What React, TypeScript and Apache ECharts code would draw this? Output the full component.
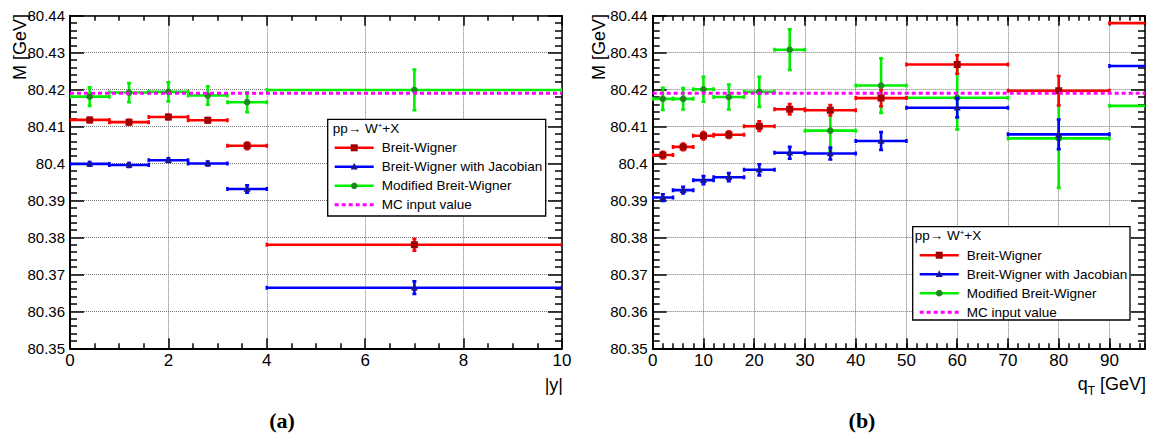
import React, { useEffect, useRef } from 'react';
import * as echarts from 'echarts';

const FONT = 'Liberation Sans, Arial, Helvetica, sans-serif';
const SERIF = 'Liberation Serif, Times New Roman, serif';

// ---------- Panel (a): fitted W mass vs |y| ----------
const yEdges = [0, 0.8, 1.6, 2.4, 3.2, 4, 10];
const yCenters = [0.4, 1.2, 2.0, 2.8, 3.6, 7];
const bwA = [80.4118, 80.4112, 80.4126, 80.4117, 80.4048, 80.378];
const bwAErr = [0.0006, 0.0006, 0.0006, 0.0006, 0.0009, 0.0016];
const bwjA = [80.3999, 80.3996, 80.4009, 80.4, 80.3931, 80.3664];
const bwjAErr = [0.0005, 0.0005, 0.0005, 0.0005, 0.001, 0.0017];
const mbwA = [80.4181, 80.4192, 80.4194, 80.4184, 80.4166, 80.4199];
const mbwAErr = [0.0025, 0.0026, 0.0026, 0.0025, 0.0027, 0.0055];

// ---------- Panel (b): fitted W mass vs qT ----------
const qEdges = [0, 4, 8, 12, 18, 24, 30, 40, 50, 70, 90, 110];
const qCenters = [2, 6, 10, 15, 21, 27, 35, 45, 60, 80, 100];
const bwB = [80.4023, 80.4045, 80.4075, 80.4078, 80.4101, 80.4147, 80.4144, 80.4177, 80.4268, 80.4197, 80.438];
const bwBErr = [0.0009, 0.0009, 0.001, 0.0009, 0.0013, 0.0014, 0.0014, 0.0022, 0.0025, 0.004, 0.005];
const bwjB = [80.3908, 80.3928, 80.3955, 80.3963, 80.3983, 80.4029, 80.4027, 80.4061, 80.4151, 80.4079, 80.4264];
const bwjBErr = [0.0009, 0.0009, 0.0011, 0.0011, 0.0015, 0.0016, 0.0016, 0.0024, 0.0026, 0.004, 0.005];
const mbwB = [80.4175, 80.4175, 80.4201, 80.418, 80.4194, 80.4308, 80.4089, 80.4211, 80.4178, 80.4068, 80.4156];
const mbwBErr = [0.003, 0.0029, 0.0034, 0.0034, 0.0041, 0.0055, 0.0054, 0.0074, 0.0086, 0.0134, 0.01];

const mcValue = 80.419;
const yRange = [0, 10];
const qRange = [0, 97];
const mRange = [80.35, 80.44];

const legendTitle = 'pp→ W{sup|+}+X';
const legendNames = ['Breit-Wigner', 'Breit-Wigner with Jacobian', 'Modified Breit-Wigner', 'MC input value'];

const RED = '#ff0000', RED_M = '#a00000';
const BLUE = '#0000ff', BLUE_M = '#18188c';
const GREEN = '#00ee00', GREEN_M = '#1e8a1e';
const MAG = '#ff00ff';

function rows(edges: number[], centers: number[], vals: number[], errs: number[]) {
  return vals.map((v, i) => [edges[i], edges[i + 1], centers[i], v, errs[i]]);
}

function markerShape(kind: string, cx: number, cy: number, fill: string) {
  if (kind === 'square') return { type: 'rect', shape: { x: cx - 3.5, y: cy - 3.5, width: 7, height: 7 }, style: { fill } };
  if (kind === 'triangle') return { type: 'polygon', shape: { points: [[cx, cy - 4], [cx - 3.5, cy + 2.8], [cx + 3.5, cy + 2.8]] }, style: { fill } };
  return { type: 'circle', shape: { cx, cy, r: 3.3 }, style: { fill } };
}

function stepSeries(data: number[][], xi: number, yi: number, color: string, mcolor: string, kind: string) {
  return {
    type: 'custom',
    xAxisIndex: xi,
    yAxisIndex: yi,
    clip: true,
    encode: { x: [0, 1], y: 3 },
    data,
    renderItem: (params: any, api: any) => {
      const cs = params.coordSys;
      const xa = cs.x, xb = cs.x + cs.width;
      const v = api.value(3), e = api.value(4);
      const lo = api.coord([api.value(0), v]);
      const hi = api.coord([api.value(1), v]);
      const c = api.coord([api.value(2), v]);
      const t = api.coord([api.value(2), v + e]);
      const b = api.coord([api.value(2), v - e]);
      const y = c[1];
      const L = Math.max(lo[0], xa), R = Math.min(hi[0], xb);
      const st = { stroke: color, lineWidth: 2.6 };
      const ch: any[] = [{ type: 'line', shape: { x1: L, y1: y, x2: R, y2: y }, style: st }];
      if (lo[0] >= xa - 0.5) ch.push({ type: 'line', shape: { x1: L, y1: y - 2, x2: L, y2: y + 2 }, style: st });
      if (hi[0] <= xb + 0.5) ch.push({ type: 'line', shape: { x1: R, y1: y - 2, x2: R, y2: y + 2 }, style: st });
      if (c[0] <= xb) {
        ch.push({ type: 'line', shape: { x1: c[0], y1: t[1], x2: c[0], y2: b[1] }, style: st });
        ch.push({ type: 'line', shape: { x1: c[0] - 2, y1: t[1], x2: c[0] + 2, y2: t[1] }, style: st });
        ch.push({ type: 'line', shape: { x1: c[0] - 2, y1: b[1], x2: c[0] + 2, y2: b[1] }, style: st });
        ch.push(markerShape(kind, c[0], y, mcolor));
      }
      return { type: 'group', children: ch };
    },
  };
}

function mcSeries(range: number[], xi: number, yi: number) {
  return {
    type: 'line',
    xAxisIndex: xi,
    yAxisIndex: yi,
    symbol: 'none',
    data: [[range[0], mcValue], [range[1], mcValue]],
    lineStyle: { color: MAG, width: 3, type: [4, 3] },
    z: 5,
  };
}

const black = '#000';
function xAxisDef(grid: number, range: number[], interval: number, pos: string, opts: any) {
  return {
    type: 'value', gridIndex: grid, min: range[0], max: range[1], interval, position: pos,
    axisLine: { show: opts.line, onZero: false, lineStyle: { color: black, width: pos === 'bottom' ? 2 : 1.5 } },
    axisTick: { show: true, inside: true, length: opts.tick, lineStyle: { color: black, width: 1.5 } },
    minorTick: { show: !!opts.minor, splitNumber: opts.minor || 5, length: 5, lineStyle: { color: black, width: 1.5 } },
    axisLabel: {
      show: !!opts.labels, color: black, fontFamily: FONT, fontSize: 17, margin: 4,
      showMaxLabel: opts.showMax !== false,
    },
    splitLine: { show: !!opts.split, lineStyle: { color: '#777', type: 'dotted', width: 1 } },
  };
}
function yAxisDef(grid: number, pos: string, labels: boolean) {
  return {
    type: 'value', gridIndex: grid, min: mRange[0], max: mRange[1], interval: 0.01, position: pos,
    axisLine: { show: true, onZero: false, lineStyle: { color: black, width: pos === 'left' ? 2 : 1.5 } },
    axisTick: { show: true, inside: true, length: 14, lineStyle: { color: black, width: 1.5 } },
    minorTick: { show: true, splitNumber: 5, length: 7, lineStyle: { color: black, width: 1.5 } },
    axisLabel: {
      show: labels, color: black, fontFamily: FONT, fontSize: 15, margin: 5,
      formatter: (v: number) => Number(v).toFixed(2).replace(/0$/, ''),
    },
    splitLine: { show: labels, lineStyle: { color: '#777', type: 'dotted', width: 1 } },
  };
}

function legendGraphic(x: number, y: number, w: number, h: number, hx: number) {
  const els: any[] = [];
  els.push({ type: 'rect', shape: { x, y, width: w, height: h }, style: { fill: '#fff', stroke: black, lineWidth: 1.3 }, z: 100 });
  els.push({
    type: 'text', x: x + hx, y: y + 9, z: 101,
    style: {
      text: legendTitle, fill: black, fontFamily: FONT, fontSize: 13.5, verticalAlign: 'middle', align: 'left',
      rich: { sup: { fontSize: 8, fontFamily: FONT, fill: black, verticalAlign: 'top', padding: [0, 0, 6, 0] } },
    },
  });
  const cols = [[RED, RED_M, 'square'], [BLUE, BLUE_M, 'triangle'], [GREEN, GREEN_M, 'circle'], [MAG, '', '']];
  legendNames.forEach((name, i) => {
    const ry = y + 28.5 + i * 19;
    const [lc, mc, kind] = cols[i];
    els.push({
      type: 'line', z: 101,
      shape: { x1: x + 7, y1: ry, x2: x + 46, y2: ry },
      style: i === 3 ? { stroke: lc, lineWidth: 3, lineDash: [4, 3] } : { stroke: lc, lineWidth: 2.6 },
    });
    if (kind) els.push({ ...markerShape(kind, x + 26.5, ry, mc), z: 102 });
    els.push({
      type: 'text', x: x + 54, y: ry, z: 101,
      style: { text: name, fill: black, fontFamily: FONT, fontSize: 13.5, verticalAlign: 'middle', align: 'left' },
    });
  });
  return els;
}

export default function App() {
  const ref = useRef<HTMLDivElement>(null);
  useEffect(() => {
    if (!ref.current) return;
    const chart = echarts.init(ref.current, undefined, { renderer: 'svg' });
    const top = 15.7, height = 332.6;
    const option: any = {
      animation: false,
      backgroundColor: '#fff',
      grid: [
        { left: 70, top, width: 492, height },
        { left: 652.7, top, width: 492.3, height },
      ],
      xAxis: [
        xAxisDef(0, yRange, 2, 'bottom', { line: true, tick: 10, minor: 4, labels: true, split: true }),
        xAxisDef(0, yRange, 2, 'top', { line: true, tick: 10, minor: 4 }),
        xAxisDef(1, qRange, 10, 'bottom', { line: true, tick: 10, labels: true, split: true, showMax: false }),
        xAxisDef(1, qRange, 2, 'bottom', { line: false, tick: 5 }),
        xAxisDef(1, qRange, 10, 'top', { line: true, tick: 10 }),
        xAxisDef(1, qRange, 2, 'top', { line: false, tick: 5 }),
      ],
      yAxis: [
        yAxisDef(0, 'left', true),
        yAxisDef(0, 'right', false),
        yAxisDef(1, 'left', true),
        yAxisDef(1, 'right', false),
      ],
      series: [
        stepSeries(rows(yEdges, yCenters, mbwA, mbwAErr), 0, 0, GREEN, GREEN_M, 'circle'),
        stepSeries(rows(yEdges, yCenters, bwjA, bwjAErr), 0, 0, BLUE, BLUE_M, 'triangle'),
        stepSeries(rows(yEdges, yCenters, bwA, bwAErr), 0, 0, RED, RED_M, 'square'),
        mcSeries(yRange, 0, 0),
        stepSeries(rows(qEdges, qCenters, mbwB, mbwBErr), 2, 2, GREEN, GREEN_M, 'circle'),
        stepSeries(rows(qEdges, qCenters, bwjB, bwjBErr), 2, 2, BLUE, BLUE_M, 'triangle'),
        stepSeries(rows(qEdges, qCenters, bwB, bwBErr), 2, 2, RED, RED_M, 'square'),
        mcSeries(qRange, 2, 2),
      ],
      graphic: [
        ...legendGraphic(327.7, 119.3, 218, 96.7, 5),
        ...legendGraphic(912.7, 226.7, 217.3, 93.3, 2),
        {
          type: 'text', x: 20, y: 14, rotation: Math.PI / 2,
          style: { text: 'M [GeV]', fill: black, fontFamily: FONT, fontSize: 18, align: 'right', verticalAlign: 'middle' },
        },
        {
          type: 'text', x: 598.5, y: 14, rotation: Math.PI / 2,
          style: { text: 'M [GeV]', fill: black, fontFamily: FONT, fontSize: 18, align: 'right', verticalAlign: 'middle' },
        },
        {
          type: 'text', x: 563, y: 385,
          style: { text: '|y|', fill: black, fontFamily: FONT, fontSize: 18, align: 'right', verticalAlign: 'middle' },
        },
        {
          type: 'text', x: 1146, y: 386,
          style: {
            text: '{m|q}{s|T}{m| [GeV]}', align: 'right', verticalAlign: 'middle',
            rich: {
              m: { fontFamily: FONT, fontSize: 18, fill: black, lineHeight: 22, verticalAlign: 'top' },
              s: { fontFamily: FONT, fontSize: 12, fill: black, lineHeight: 12, verticalAlign: 'bottom' },
            },
          },
        },
        {
          type: 'text', x: 282, y: 420,
          style: { text: '(a)', fill: black, fontFamily: SERIF, fontSize: 22, fontWeight: 'bold', align: 'center', verticalAlign: 'middle' },
        },
        {
          type: 'text', x: 862, y: 420,
          style: { text: '(b)', fill: black, fontFamily: SERIF, fontSize: 22, fontWeight: 'bold', align: 'center', verticalAlign: 'middle' },
        },
      ],
    };
    chart.setOption(option);
    return () => chart.dispose();
  }, []);
  return <div ref={ref} style={{ position: 'fixed', left: 0, top: 0, width: 1149, height: 436, background: '#fff' }} />;
}
